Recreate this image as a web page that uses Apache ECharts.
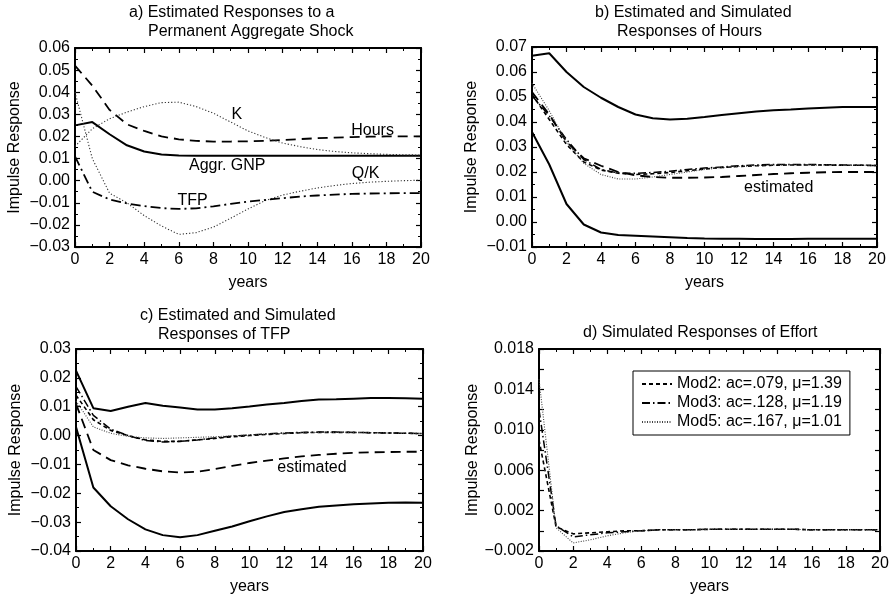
<!DOCTYPE html>
<html>
<head>
<meta charset="utf-8">
<title>Impulse responses</title>
<script src="https://cdn.jsdelivr.net/npm/echarts@6/dist/echarts.min.js"></script>
<style>
  html, body { margin: 0; padding: 0; background: #fff; }
  #chart { width: 893px; height: 596px; }
</style>
</head>
<body>
<div id="chart"></div>
<script>
const years = [0, 1, 2, 3, 4, 5, 6, 7, 8, 9, 10, 11, 12, 13, 14, 15, 16, 17, 18, 19, 20]

// a) estimated responses to a permanent aggregate shock
const aGnp = [0.025, 0.0265, 0.021, 0.016, 0.0132, 0.0118, 0.0114, 0.0113, 0.0113, 0.0113, 0.0113, 0.0113, 0.0113, 0.0113, 0.0113, 0.0113, 0.0113, 0.0113, 0.0113, 0.0113, 0.0113]
const aHours = [0.052, 0.043, 0.032, 0.0255, 0.0225, 0.020, 0.0187, 0.018, 0.0177, 0.0177, 0.0178, 0.018, 0.0184, 0.0188, 0.0192, 0.0195, 0.0197, 0.0199, 0.020, 0.020, 0.020]
const aK = [0.0155, 0.0235, 0.028, 0.031, 0.0335, 0.0353, 0.0355, 0.0335, 0.0305, 0.0265, 0.0225, 0.0195, 0.017, 0.0154, 0.0141, 0.0132, 0.0126, 0.0122, 0.0119, 0.0117, 0.0116]
const aQK = [0.040, 0.010, -0.0057, -0.010, -0.0158, -0.0205, -0.0243, -0.0235, -0.021, -0.017, -0.0128, -0.009, -0.0065, -0.0048, -0.0033, -0.0022, -0.0013, -0.0007, -0.0003, 0.0, 0.0002]
const aTfp = [0.011, -0.005, -0.0085, -0.0103, -0.0115, -0.0124, -0.0128, -0.0125, -0.0116, -0.0105, -0.0095, -0.0087, -0.0079, -0.0072, -0.0067, -0.0063, -0.006, -0.0058, -0.0057, -0.0056, -0.0056]

// b) hours: band, estimated (= aHours) and simulated models
const bUpper = [0.0665, 0.0675, 0.060, 0.054, 0.0497, 0.046, 0.043, 0.0415, 0.041, 0.0413, 0.042, 0.0428, 0.0435, 0.0442, 0.0447, 0.045, 0.0454, 0.0457, 0.046, 0.046, 0.046]
const bLower = [0.036, 0.023, 0.0072, -0.001, -0.0042, -0.0052, -0.0055, -0.0058, -0.0061, -0.0064, -0.0066, -0.0067, -0.0067, -0.0068, -0.0068, -0.0068, -0.0067, -0.0067, -0.0067, -0.0067, -0.0067]
const bMod2 = [0.051, 0.041, 0.031, 0.024, 0.0208, 0.0195, 0.019, 0.0193, 0.0198, 0.0205, 0.0212, 0.0218, 0.0222, 0.0225, 0.0227, 0.0228, 0.0228, 0.0228, 0.0227, 0.0227, 0.0226]
const bMod3 = [0.0505, 0.0425, 0.033, 0.025, 0.021, 0.0196, 0.0195, 0.0198, 0.0203, 0.021, 0.0216, 0.022, 0.0225, 0.0228, 0.023, 0.023, 0.023, 0.0229, 0.0228, 0.0227, 0.0226]
const bMod5 = [0.0555, 0.0445, 0.032, 0.0235, 0.019, 0.0172, 0.0172, 0.018, 0.019, 0.020, 0.021, 0.0217, 0.0222, 0.0226, 0.0228, 0.0228, 0.0228, 0.0228, 0.0227, 0.0227, 0.0226]

// c) TFP: band, estimated (= aTfp) and simulated models
const cUpper = [0.0225, 0.0095, 0.0085, 0.010, 0.0113, 0.0103, 0.0097, 0.009, 0.009, 0.0095, 0.0101, 0.0108, 0.0113, 0.012, 0.0125, 0.0126, 0.0128, 0.013, 0.013, 0.0129, 0.0128]
const cLower = [0.003, -0.018, -0.0245, -0.029, -0.0325, -0.0345, -0.0352, -0.0345, -0.033, -0.0315, -0.0297, -0.028, -0.0265, -0.0255, -0.0247, -0.0242, -0.0238, -0.0235, -0.0233, -0.0232, -0.0233]
const cMod2 = [0.014, 0.0055, 0.0018, 0.0, -0.0015, -0.002, -0.002, -0.0015, -0.001, -0.0004, 0.0, 0.0004, 0.0007, 0.001, 0.0011, 0.0011, 0.0011, 0.001, 0.0009, 0.0008, 0.0007]
const cMod3 = [0.017, 0.007, 0.0022, 0.0, -0.0017, -0.0022, -0.002, -0.0015, -0.0008, -0.0002, 0.0002, 0.0006, 0.0009, 0.0011, 0.0012, 0.0012, 0.0011, 0.001, 0.0009, 0.0008, 0.0007]
const cMod5 = [0.012, 0.003, 0.0008, -0.0003, -0.0008, -0.001, -0.0008, -0.0006, -0.0004, -0.0001, 0.0002, 0.0005, 0.0008, 0.001, 0.0011, 0.0011, 0.0011, 0.001, 0.0009, 0.0008, 0.0007]

// d) simulated responses of effort
const dMod2 = [0.009, 0.0004, -0.0003, -0.0002, -0.0001, 0.0, 0.0, 0.0001, 0.0001, 0.0001, 0.00015, 0.00015, 0.00015, 0.00015, 0.00015, 0.00015, 0.0001, 0.0001, 0.0001, 0.0001, 0.0001]
const dMod3 = [0.012, 0.0005, -0.0006, -0.0004, -0.0002, -0.0001, 0.0, 0.0001, 0.0001, 0.0001, 0.00015, 0.00015, 0.00015, 0.00015, 0.00015, 0.00015, 0.0001, 0.0001, 0.0001, 0.0001, 0.0001]
const dMod5 = [0.015, 0.0003, -0.0012, -0.0009, -0.0005, -0.0002, 0.0, 0.0001, 0.0001, 0.0001, 0.00015, 0.00015, 0.00015, 0.00015, 0.00015, 0.00015, 0.0001, 0.0001, 0.0001, 0.0001, 0.0001]

const modNames = ['Mod2: ac=.079, \u03bc=1.39', 'Mod3: ac=.128, \u03bc=1.19', 'Mod5: ac=.167, \u03bc=1.01']

// y scales per panel: [min, max, step, decimals, labelEvery]
const yScales = [
  [-0.03, 0.06, 0.01, 2, 1],
  [-0.01, 0.07, 0.01, 2, 1],
  [-0.04, 0.03, 0.01, 2, 1],
  [-0.002, 0.018, 0.002, 3, 2]
]

// in-plot annotations: [panel, text, year, value]
const notes = [
  [0, 'K', 9.35, 0.0297],
  [0, 'Hours', 17.2, 0.0228],
  [0, 'Aggr. GNP', 8.8, 0.0067],
  [0, 'Q/K', 16.8, 0.003],
  [0, 'TFP', 6.8, -0.0092],
  [1, 'estimated', 14.3, 0.0137],
  [2, 'estimated', 13.6, -0.0112]
]

const FONT = 'Liberation Sans, Arial, Helvetica, sans-serif'
const black = '#000'

const grids = [
  { left: 75, top: 48, width: 346, height: 199 },
  { left: 532, top: 47, width: 345, height: 200 },
  { left: 76, top: 349, width: 347, height: 203 },
  { left: 539, top: 349, width: 341, height: 202 }
]

const solid = { type: 'solid', width: 2, color: black }
const longDash = { type: [10, 6], width: 1.8, color: black }
const dashDot = { type: [10, 4, 2, 4], width: 1.8, color: black }
const dotted = { type: [1.2, 2], width: 1.1, color: '#333' }
const mod2Style = { type: [4, 3], width: 1.6, color: black }
const mod3Style = { type: [8, 3, 1.5, 3], width: 1.5, color: black }
const mod5Style = { type: [1, 1.5], width: 1.1, color: '#444' }

function fmt(v, dec) {
  const s = Math.abs(v).toFixed(dec)
  return v < -1e-9 ? '\u2212' + s : s
}

const xAxes = []
const yAxes = []
grids.forEach(function (g, i) {
  const sc = yScales[i]
  const base = {
    gridIndex: i,
    type: 'value',
    axisLine: { onZero: false, lineStyle: { color: black, width: 2 } },
    axisTick: { inside: true, length: 5, lineStyle: { color: black, width: 1.2 } },
    splitLine: { show: false }
  }
  xAxes.push(Object.assign({}, base, {
    position: 'bottom', min: 0, max: 20, interval: 2,
    minorTick: { show: true, splitNumber: 2, length: 3, lineStyle: { color: black } },
    axisLabel: { color: black, fontSize: 16, fontFamily: FONT, margin: 5 },
    name: 'years', nameLocation: 'middle', nameGap: 28,
    nameTextStyle: { color: black, fontSize: 16, fontFamily: FONT }
  }))
  xAxes.push(Object.assign({}, base, {
    position: 'top', min: 0, max: 20, interval: 2,
    minorTick: { show: true, splitNumber: 2, length: 3, lineStyle: { color: black } },
    axisLabel: { show: false }
  }))
  const yMinor = sc[4] === 1 ? { show: true, splitNumber: 2, length: 3, lineStyle: { color: black } } : { show: false }
  yAxes.push(Object.assign({}, base, {
    position: 'left', min: sc[0], max: sc[1], interval: sc[2],
    minorTick: yMinor,
    axisLabel: {
      color: black, fontSize: 16, fontFamily: FONT, margin: 5,
      formatter: function (v) {
        const k = Math.round((v - sc[0]) / sc[2])
        return k % sc[4] === 0 ? fmt(v, sc[3]) : ''
      }
    },
    name: 'Impulse Response', nameLocation: 'middle', nameGap: 52,
    nameTextStyle: { color: black, fontSize: 16, fontFamily: FONT }
  }))
  yAxes.push(Object.assign({}, base, {
    position: 'right', min: sc[0], max: sc[1], interval: sc[2],
    minorTick: yMinor,
    axisLabel: { show: false }
  }))
})

function pairs(arr) {
  return years.map(function (x, i) { return [x, arr[i]] })
}

function line(panel, name, arr, style) {
  return {
    type: 'line', name: name, xAxisIndex: panel * 2, yAxisIndex: panel * 2,
    data: pairs(arr), symbol: 'none', showSymbol: false, silent: true,
    itemStyle: { color: black },
    lineStyle: style, z: 3
  }
}

const series = [
  line(0, 'Aggr. GNP', aGnp, solid),
  line(0, 'Hours', aHours, longDash),
  line(0, 'K', aK, dotted),
  line(0, 'Q/K', aQK, dotted),
  line(0, 'TFP', aTfp, dashDot),

  line(1, 'b upper', bUpper, solid),
  line(1, 'b lower', bLower, solid),
  line(1, 'b estimated', aHours, longDash),
  line(1, 'b mod2', bMod2, mod2Style),
  line(1, 'b mod3', bMod3, mod3Style),
  line(1, 'b mod5', bMod5, mod5Style),

  line(2, 'c upper', cUpper, solid),
  line(2, 'c lower', cLower, solid),
  line(2, 'c estimated', aTfp, longDash),
  line(2, 'c mod2', cMod2, mod2Style),
  line(2, 'c mod3', cMod3, mod3Style),
  line(2, 'c mod5', cMod5, mod5Style),

  line(3, modNames[0], dMod2, mod2Style),
  line(3, modNames[1], dMod3, mod3Style),
  line(3, modNames[2], dMod5, mod5Style)
]

const titleStyle = { color: black, fontSize: 16, fontWeight: 'normal', fontFamily: FONT }
function t(text, left, top) {
  return { text: text, left: left, top: top, padding: 0, textStyle: titleStyle }
}

const chart = echarts.init(document.getElementById('chart'), null, { renderer: 'canvas' })
chart.setOption({
  animation: false,
  backgroundColor: '#fff',
  title: [
    t('a) Estimated Responses to a', 129, 5),
    t('Permanent Aggregate Shock', 148, 24),
    t('b) Estimated and Simulated', 595, 5),
    t('Responses of Hours', 617, 24),
    t('c) Estimated and Simulated', 140, 308),
    t('Responses of TFP', 158, 327),
    t('d) Simulated Responses of Effort', 583, 325)
  ],
  legend: {
    data: modNames,
    orient: 'vertical',
    left: 633, top: 371,
    borderColor: black, borderWidth: 1,
    padding: [5, 8, 5, 8],
    itemWidth: 30, itemHeight: 10, itemGap: 3,
    selectedMode: false,
    itemStyle: { opacity: 0 },
    textStyle: { color: black, fontSize: 16, fontFamily: FONT }
  },
  grid: grids,
  xAxis: xAxes,
  yAxis: yAxes,
  series: series
})

// in-plot text labels, positioned from data coordinates through the axes
chart.setOption({
  graphic: notes.map(function (n) {
    const p = chart.convertToPixel({ xAxisIndex: n[0] * 2, yAxisIndex: n[0] * 2 }, [n[2], n[3]])
    return {
      type: 'text', x: p[0], y: p[1], silent: true, z: 10,
      style: {
        text: n[1], fill: black, font: '16px ' + FONT,
        textAlign: 'center', textVerticalAlign: 'middle'
      }
    }
  })
})
</script>
</body>
</html>
